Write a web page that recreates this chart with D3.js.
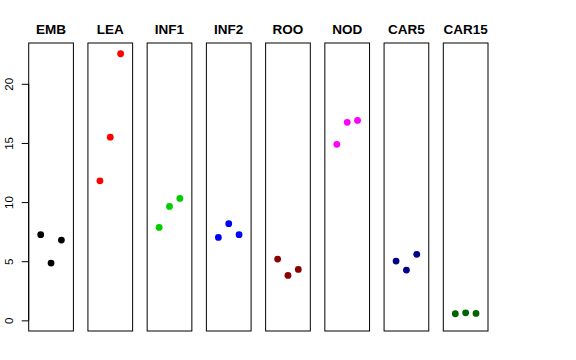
<!DOCTYPE html>
<html><head><meta charset="utf-8">
<script src="https://cdn.jsdelivr.net/npm/d3@7"></script>
<style>body{margin:0;background:#fff}svg{display:block}</style>
</head><body>
<script>
const categories = ["EMB","LEA","INF1","INF2","ROO","NOD","CAR5","CAR15"];
const colors = ["#000000","#FF0000","#00CD00","#0000FF","#8B0000","#FF00FF","#00008B","#006400"];
const valuesEMB = [7.24, 4.84, 6.79];
const valuesLEA = [11.8, 15.49, 22.54];
const valuesINF1 = [7.86, 9.63, 10.31];
const valuesINF2 = [7.01, 8.17, 7.24];
const valuesROO = [5.18, 3.80, 4.31];
const valuesNOD = [14.88, 16.74, 16.9];
const valuesCAR5 = [5.01, 4.25, 5.58];
const valuesCAR15 = [0.56, 0.64, 0.59];
const series = [valuesEMB, valuesLEA, valuesINF1, valuesINF2, valuesROO, valuesNOD, valuesCAR5, valuesCAR15];
const yTicks = [0, 5, 10, 15, 20];

const W = 576, H = 360;
const svg = d3.select("body").append("svg").attr("width", W).attr("height", H);

const plotTop = 43, plotBottom = 331;
const y = d3.scaleLinear().domain([-0.9, 23.45]).range([plotBottom, plotTop]);
const band = d3.scaleBand().domain(categories).range([28.7, 488]).paddingInner(0.2453).paddingOuter(0);
const xInner = d3.scaleLinear().domain([-0.16, 4.16]).range([0, band.bandwidth()]);

categories.forEach((c, i) => {
  const g = svg.append("g").attr("transform", `translate(${band(c)},0)`);
  g.append("rect").attr("x", 0).attr("y", plotTop).attr("width", band.bandwidth()).attr("height", plotBottom - plotTop)
    .attr("fill", "none").attr("stroke", "#000").attr("stroke-width", 1);
  g.selectAll("circle").data(series[i]).enter().append("circle")
    .attr("cx", (d, j) => xInner(j + 1)).attr("cy", d => y(d)).attr("r", 3.4).attr("fill", colors[i]);
  g.append("text").attr("x", band.bandwidth() / 2).attr("y", 34).attr("text-anchor", "middle")
    .attr("font-family", "Liberation Sans, Arial, sans-serif").attr("font-weight", "bold").attr("font-size", 13.5)
    .text(c);
});

const axis = d3.axisLeft(y).tickValues(yTicks).tickSize(7).tickPadding(3).tickFormat(d3.format("d"));
const ag = svg.append("g").attr("transform", `translate(28.7,0)`).call(axis);
ag.select(".domain").attr("d", `M0,${y(0)}V${y(20)}`).attr("stroke", "#000");
ag.selectAll(".tick line").attr("stroke", "#000");
ag.selectAll(".tick text").attr("font-family", "Liberation Sans, Arial, sans-serif").attr("font-size", 11.5).attr("fill", "#000")
  .attr("text-anchor", "middle").attr("x", null).attr("dy", null)
  .attr("transform", "translate(-20,0) rotate(-90)").attr("y", 4);
</script>
</body></html>
